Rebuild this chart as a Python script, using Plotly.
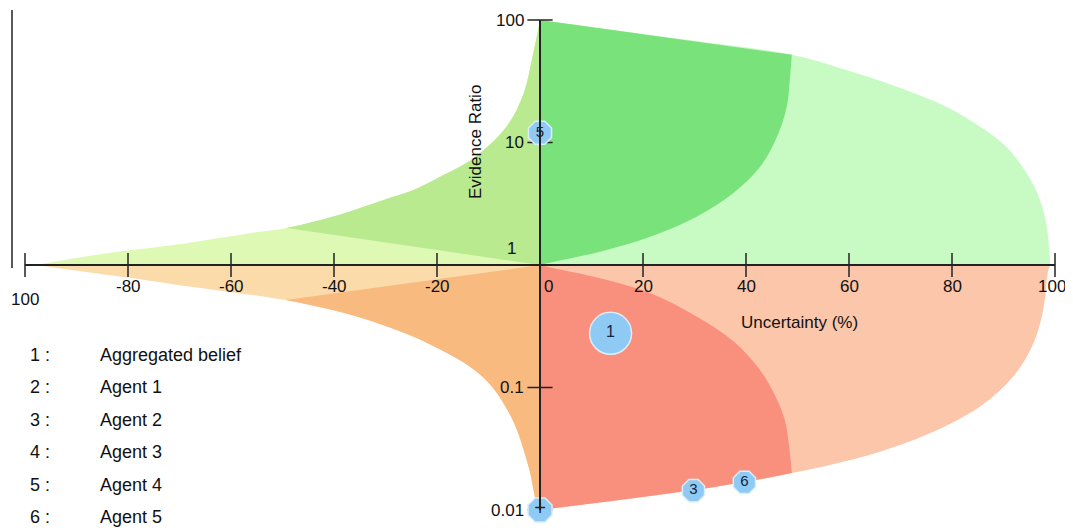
import math
import plotly.graph_objects as go

# --- data (uncertainty in %, evidence ratio) ---
# upper right: outer edge of the "evidence ratio > 1" area
ur_edge_u = [0, 25, 48.9, 59.5, 69.3, 79.0, 85.4, 90.6, 94.5, 97.1, 98.4, 98.9, 99.1]
ur_edge_r = [100, 72, 52, 39, 28.5, 19.5, 13.5, 9.2, 5.6, 3.4, 2.05, 1.26, 1]
# upper right: edge of the darker core
ur_core_u = [0, 1.9, 11.7, 21.4, 30.4, 37.5, 42.7, 46.0, 47.9, 48.5, 48.9]
ur_core_r = [1, 1.045, 1.285, 1.70, 2.48, 3.85, 6.3, 11.1, 19.5, 32.4, 52]

# lower right
lr_edge_u = [0, 18.1, 32.4, 42.7, 48.9, 56.3, 66.0, 75.7, 85.4, 91.9, 95.8, 97.7, 98.7, 99.1]
lr_edge_r = [0.01, 0.01245, 0.01503, 0.0178, 0.02, 0.0233, 0.0299, 0.0423, 0.0697,
             0.123, 0.229, 0.43, 0.912, 1]
lr_core_u = [0, 2.0, 11.7, 21.4, 30.4, 37.5, 42.5, 45.4, 47.5, 48.3, 48.9]
lr_core_r = [1, 0.955, 0.78, 0.59, 0.38, 0.24, 0.143, 0.09, 0.055, 0.035, 0.02]

# upper left / lower left
ul_edge_u = [-98, -84, -70, -56.3, -49.2, -40, -30.4, -24, -19.4, -13, -6.5, -3.2, -1.3, 0]
ul_edge_r = [1, 1.25, 1.48, 1.82, 2.0, 2.5, 3.4, 4.2, 5.25, 7.4, 13.5, 25, 54, 100]
ll_edge_u = [-98, -91, -80, -70.3, -60, -49.4, -35.6, -21.7, -11.2, -5.6, -2.2, -0.8, 0]
ll_edge_r = [1, 0.912, 0.79, 0.687, 0.6, 0.518, 0.38, 0.229, 0.123, 0.0575, 0.0224, 0.012, 0.01]

# agents plotted on the chart
agent_labels = ["1", "5", "3", "6", "+"]
agent_u = [13.7, 0, 29.8, 39.7, 0]
agent_r = [0.277, 12, 0.0144, 0.0168, 0.01]

legend_ids = ["1 :", "2 :", "3 :", "4 :", "5 :", "6 :"]
legend_names = ["Aggregated belief", "Agent 1", "Agent 2", "Agent 3", "Agent 4", "Agent 5"]

x_tick_vals = [-100, -80, -60, -40, -20, 0, 20, 40, 60, 80, 100]
x_tick_text = ["100", "-80", "-60", "-40", "-20", "0", "20", "40", "60", "80", "100"]
y_tick_vals = [100, 10, 1, 0.1, 0.01]
y_tick_text = ["100", "10", "1", "0.1", "0.01"]

FONT = "Arial, Liberation Sans, sans-serif"
# the page body adds an 8px offset, so the figure is 8px smaller than the window
W, H = 1065, 520
ML, MT = 17, 12
MR = W - (1055 - 8)
MB = H - (510 - 8)


def px_x(p):
    # p is a horizontal pixel position in the window
    return (p - 25) / 1030


def px_y(p):
    return (510 - p) / 490


fig = go.Figure()


def band(base_x, base_y, base_shape, edge_x, edge_y, edge_shape, color):
    # invisible base line, then the edge filled down/up to it
    fig.add_trace(go.Scatter(x=base_x, y=base_y, mode="lines",
                             line=dict(width=0, shape=base_shape),
                             hoverinfo="skip", showlegend=False))
    fig.add_trace(go.Scatter(x=edge_x, y=edge_y, mode="lines", fill="tonexty",
                             fillcolor=color, line=dict(width=0, shape=edge_shape),
                             hoverinfo="skip", showlegend=False))


# light outer areas
band([0, 99.1], [1, 1], "linear", ur_edge_u, ur_edge_r, "spline", "#c8fbc4")
band([0, 99.1], [1, 1], "linear", lr_edge_u, lr_edge_r, "spline", "#fbc6aa")
band([-98, 0], [1, 1], "linear", ul_edge_u, ul_edge_r, "spline", "#ddf9b3")
band([-98, 0], [1, 1], "linear", ll_edge_u, ll_edge_r, "spline", "#fcdbab")

# darker cores
top_u = [u for u in ur_edge_u if u <= 48.9]
top_r = ur_edge_r[:len(top_u)]
band(ur_core_u, ur_core_r, "spline", top_u, top_r, "linear", "#7ae27a")
bot_u = [u for u in lr_edge_u if u <= 48.9]
bot_r = lr_edge_r[:len(bot_u)]
band(lr_core_u, lr_core_r, "spline", bot_u, bot_r, "linear", "#f9907e")
ul_u = [u for u in ul_edge_u if u >= -49.2]
ul_r = ul_edge_r[len(ul_edge_u) - len(ul_u):]
band([ul_u[0], 0], [ul_r[0], 1], "linear", ul_u, ul_r, "spline", "#b9ea8f")
ll_u = [u for u in ll_edge_u if u >= -49.4]
ll_r = ll_edge_r[len(ll_edge_u) - len(ll_u):]
band([ll_u[0], 0], [ll_r[0], 1], "linear", ll_u, ll_r, "spline", "#f9ba80")

# tick marks crossing the axes
fig.add_trace(go.Scatter(x=x_tick_vals, y=[1] * len(x_tick_vals), mode="markers",
                         marker=dict(symbol="line-ns", size=17, line=dict(width=1.5, color="#222")),
                         cliponaxis=False, hoverinfo="skip", showlegend=False))
fig.add_trace(go.Scatter(x=[0] * len(y_tick_vals), y=y_tick_vals, mode="markers",
                         marker=dict(symbol="line-ew", size=18, line=dict(width=1.5, color="#222")),
                         cliponaxis=False, hoverinfo="skip", showlegend=False))

# agents
fig.add_trace(go.Scatter(
    x=agent_u, y=agent_r, mode="markers+text", text=agent_labels,
    textposition="middle center",
    textfont=dict(family=FONT, size=[16, 15, 15, 15, 20], color="#17243d"),
    marker=dict(symbol=["circle", "octagon", "octagon", "octagon", "octagon"],
                size=[42, 25, 24, 24, 26], color="#8ecaf3", opacity=1,
                line=dict(color="#dcedf9", width=1.5)),
    cliponaxis=False, hoverinfo="skip", showlegend=False))

ann = []
for v, t in zip(x_tick_vals, x_tick_text):
    xs, ys = 0, -21
    if v == 0:
        xs = 8
    if v == -100:
        ys = -34
    if v == 100:
        xs = -3
    ann.append(dict(x=v, y=0, xref="x", yref="y", text=t, showarrow=False,
                    xanchor="center", yanchor="middle",
                    xshift=xs, yshift=ys, font=dict(family=FONT, size=17, color="#111")))
for v, t in zip(y_tick_vals, y_tick_text):
    ys = 0
    xs = -14
    if v == 1:
        ys = 17
        xs = -22
    ann.append(dict(x=0, y=math.log10(v), xref="x", yref="y", text=t, showarrow=False,
                    xanchor="right", yanchor="middle", xshift=xs, yshift=ys,
                    font=dict(family=FONT, size=17, color="#111")))

ann.append(dict(x=px_x(475), y=px_y(142), xref="paper", yref="paper", text="Evidence Ratio",
                textangle=-90, xanchor="center", yanchor="middle", showarrow=False,
                font=dict(family=FONT, size=17, color="#111")))
ann.append(dict(x=px_x(799), y=px_y(322), xref="paper", yref="paper", text="Uncertainty (%)",
                xanchor="center", yanchor="middle", showarrow=False,
                font=dict(family=FONT, size=17, color="#111")))

legend_rows = [355, 387, 420, 452, 485, 517]
for row, i, name in zip(legend_rows, legend_ids, legend_names):
    ann.append(dict(x=px_x(28), y=px_y(row), xref="paper", yref="paper", text=i,
                    xanchor="left", yanchor="middle", showarrow=False,
                    font=dict(family=FONT, size=18, color="#111")))
    ann.append(dict(x=px_x(98), y=px_y(row), xref="paper", yref="paper", text=name,
                    xanchor="left", yanchor="middle", showarrow=False,
                    font=dict(family=FONT, size=18, color="#111")))

fig.update_layout(
    width=W, height=H,
    margin=dict(l=ML, r=MR, t=MT, b=MB, autoexpand=False),
    paper_bgcolor="white", plot_bgcolor="white",
    font=dict(family=FONT),
    xaxis=dict(range=[-100, 100], showgrid=False, zeroline=False, showline=True,
               linecolor="#222", linewidth=1.5, anchor="free", position=0.5,
               showticklabels=False, ticks=""),
    yaxis=dict(type="log", range=[-2, 2], showgrid=False, zeroline=False, showline=True,
               linecolor="#222", linewidth=1.5, anchor="free", position=0.5,
               showticklabels=False, ticks=""),
    annotations=ann,
    shapes=[dict(type="line", xref="paper", yref="paper", x0=px_x(12), x1=px_x(12),
                 y0=px_y(10), y1=px_y(268), line=dict(color="#222", width=1.5))],
)

fig.write_html("out.html")
